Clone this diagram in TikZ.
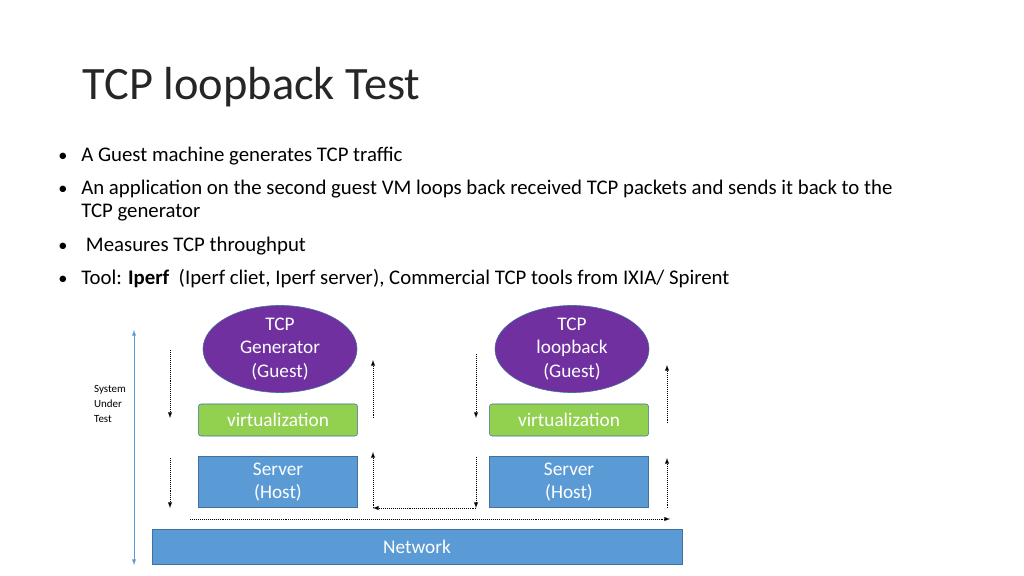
\documentclass[tikz,border=0pt]{standalone}
\usepackage{fontspec}
\setmainfont{Carlito}
\usetikzlibrary{shapes.geometric}
\definecolor{guestpurple}{HTML}{7030A0}
\definecolor{virtgreen}{HTML}{92D050}
\definecolor{hostblue}{HTML}{5B9BD5}
\definecolor{frameblue}{HTML}{41719C}
\definecolor{titlegray}{HTML}{262626}
\begin{document}
\begin{tikzpicture}[x=0.025cm,y=-0.025cm,
	guest/.style={ellipse,fill=guestpurple,draw=frameblue,minimum width=3.85cm,minimum height=1.78cm,text=white,align=center,font=\fontsize{13.7}{16.5}\selectfont,inner sep=0pt},
	virt/.style={rectangle,rounded corners=2pt,fill=virtgreen,draw=frameblue,minimum width=3.98cm,minimum height=0.8cm,text=white,font=\fontsize{13.7}{15}\selectfont},
	host/.style={rectangle,fill=hostblue,draw=frameblue,minimum width=3.98cm,minimum height=1.28cm,text=white,align=center,font=\fontsize{13.7}{16.5}\selectfont},
	flow/.style={densely dotted,-latex}]
	\useasboundingbox (0,0) rectangle (1024,576);
	\node[anchor=base west,font=\fontsize{33}{38}\selectfont,text=titlegray] (title) at (78,100) {TCP loopback Test};
	% bullets
	\foreach \y/\txt in {157/{A Guest machine generates TCP traffic},
		190/{An application on the second guest VM loops back received TCP packets and sends it back to the},
		213/{TCP generator},
		247/{\ Measures TCP throughput},
		280/{Tool: \textbf{Iperf}\ \ (Iperf cliet, Iperf server), Commercial TCP tools from IXIA/ Spirent}}
		\node[anchor=base west,inner sep=0pt,font=\fontsize{14.8}{17}\selectfont] at (81,\y+5) {\txt};
	\foreach \y in {157,190,247,280}
		\node[font=\fontsize{13}{15}\selectfont,inner sep=0pt,anchor=base] at (63,\y+5) {\textbullet};
	% diagram
	\node[guest] (gen) at (280,349) {TCP\\Generator\\(Guest)};
	\node[guest] (loop) at (572,349) {TCP\\loopback\\(Guest)};
	\node[virt] (virtA) at (278,420) {virtualization};
	\node[virt] (virtB) at (569,420) {virtualization};
	\node[host] (hostA) at (278,482) {Server\\(Host)};
	\node[host] (hostB) at (569,482) {Server\\(Host)};
	\node[rectangle,fill=hostblue,draw=frameblue,minimum width=13.25cm,minimum height=0.88cm,text=white,font=\fontsize{13.7}{15}\selectfont] (net) at (417,547) {Network};
	\node[align=left,font=\fontsize{7.8}{11}\selectfont,inner sep=0pt] (sut) at (110,404) {System\\Under\\Test};
	\coordinate (sutTop) at (134,330);
	\coordinate (sutBot) at (134,565);
	\draw[hostblue,latex-latex] (sutTop) -- (sutBot);
	% traffic path
	\coordinate (a1) at (170,350); \coordinate (a2) at (170,418);
	\coordinate (a3) at (170,458); \coordinate (a4) at (170,508);
	\coordinate (b1) at (373,418); \coordinate (b2) at (373,360);
	\coordinate (b3) at (373,508); \coordinate (b4) at (373,452);
	\coordinate (c1) at (476,354); \coordinate (c2) at (476,418);
	\coordinate (c3) at (476,457); \coordinate (c4) at (476,508);
	\coordinate (d1) at (667,423); \coordinate (d2) at (667,365);
	\coordinate (d3) at (667,508); \coordinate (d4) at (667,458);
	\coordinate (e1) at (190,519); \coordinate (e2) at (670,519);
	\draw[flow] (a1) -- (a2);
	\draw[flow] (a3) -- (a4);
	\draw[flow] (b1) -- (b2);
	\draw[flow] (b3) -- (b4);
	\draw[flow] (c1) -- (c2);
	\draw[flow] (c3) -- (c4);
	\draw[flow] (d1) -- (d2);
	\draw[flow] (d3) -- (d4);
	\draw[flow] (c4) -- (b3);
	\draw[flow] (e1) -- (e2);
\end{tikzpicture}
\end{document}
